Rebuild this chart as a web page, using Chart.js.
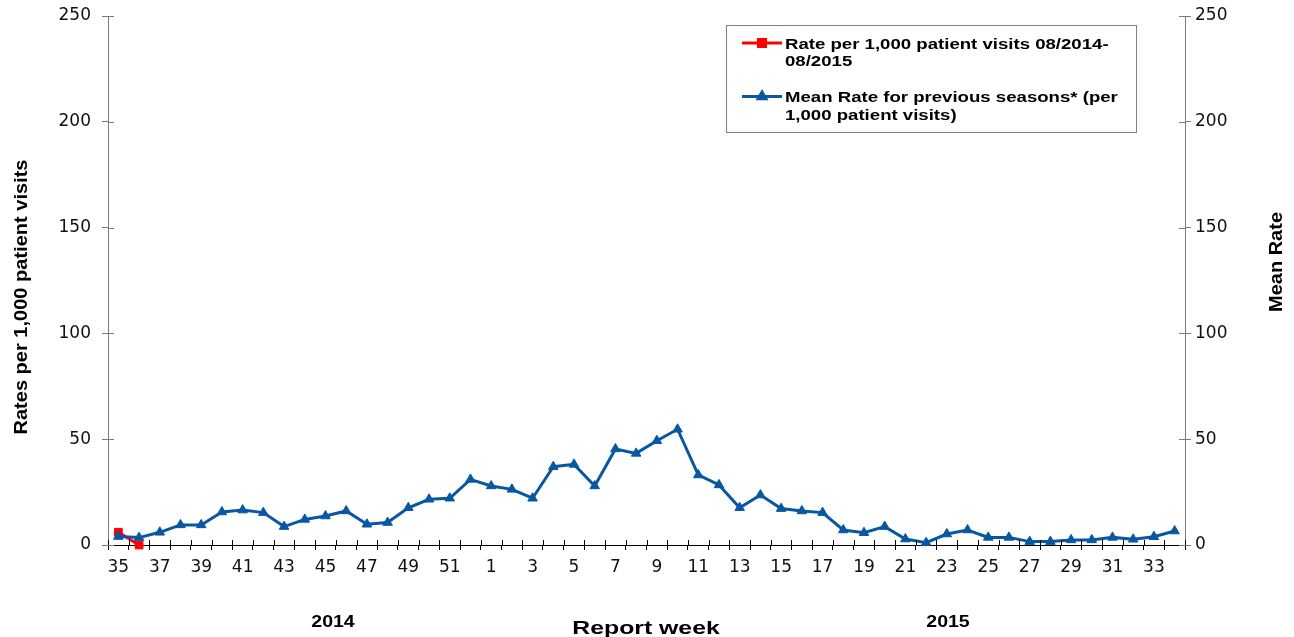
<!DOCTYPE html>
<html>
<head>
<meta charset="utf-8">
<script src="https://cdn.jsdelivr.net/npm/chart.js@4/dist/chart.umd.min.js"></script>
<style>
  html, body { margin: 0; padding: 0; background: #fff; }
  #wrap { width: 1294px; height: 637px; }
</style>
</head>
<body>
<div id="wrap"><canvas id="grafico"></canvas></div>
<script>
// semanas do relatorio (2014: 35-52, 2015: 1-34)
const weeks = [35, 36, 37, 38, 39, 40, 41, 42, 43, 44, 45, 46, 47, 48, 49, 50, 51, 52,
  1, 2, 3, 4, 5, 6, 7, 8, 9, 10, 11, 12, 13, 14, 15, 16, 17, 18, 19, 20, 21, 22, 23, 24,
  25, 26, 27, 28, 29, 30, 31, 32, 33, 34]

const meanRate = [4.0, 3.5, 6.0, 9.5, 9.5, 15.6, 16.5, 15.3, 8.7, 12.1, 13.7, 16.1, 9.8, 10.6,
  17.6, 21.6, 22.1, 31.0, 27.9, 26.3, 22.1, 37.0, 38.1, 27.9, 45.4, 43.3, 49.3, 54.7, 33.1,
  28.4, 17.6, 23.6, 17.2, 16.1, 15.3, 7.1, 5.8, 8.7, 2.8, 1.1, 5.2, 7.1, 3.6, 3.6, 1.6, 1.6,
  2.4, 2.4, 3.6, 2.7, 3.9, 6.6]

// so as duas primeiras semanas tem valor
const currentRate = [6.0, 0.0]

const yTicks = [0, 50, 100, 150, 200, 250]
const yearLabels = ['2014', '2015']

const redLabel = ['Rate per 1,000 patient visits 08/2014-', '08/2015']
const blueLabel = ['Mean Rate for previous seasons* (per', '1,000 patient visits)']

const RED = '#FF0000'
const BLUE = '#0757A2'
const AXIS_GRAY = '#7a7a7a'

function drawText(ctx, text, x, y, font, sx, align) {
  ctx.save()
  ctx.font = font
  ctx.textBaseline = 'alphabetic'
  ctx.textAlign = 'left'
  var w = ctx.measureText(text).width * sx
  var x0 = align == 'center' ? x - w / 2 : x
  ctx.translate(x0, y)
  ctx.scale(sx, 1)
  ctx.fillText(text, 0, 0)
  ctx.restore()
}

// texto girado -90 graus, com comprimento final fixo
function drawVertical(ctx, text, cx, cy, font, length) {
  ctx.save()
  ctx.font = font
  var w = ctx.measureText(text).width
  ctx.translate(cx, cy)
  ctx.rotate(-Math.PI / 2)
  ctx.scale(length / w, 1)
  ctx.textAlign = 'center'
  ctx.textBaseline = 'alphabetic'
  ctx.fillText(text, 0, 0)
  ctx.restore()
}

const extras = {
  id: 'extras',
  afterDraw(chart) {
    const ctx = chart.ctx
    const area = chart.chartArea
    const yl = chart.scales.y

    // marcas para dentro do grafico
    ctx.save()
    ctx.lineWidth = 1
    ctx.strokeStyle = AXIS_GRAY
    yTicks.forEach(v => {
      var py = Math.round(yl.getPixelForValue(v)) + 0.5
      ctx.beginPath()
      ctx.moveTo(area.left, py); ctx.lineTo(area.left + 6, py)
      ctx.moveTo(area.right - 6, py); ctx.lineTo(area.right, py)
      ctx.stroke()
    })
    ctx.strokeStyle = '#000'
    var step = (area.right - area.left) / weeks.length
    for (var i = 0; i <= weeks.length; i++) {
      var px = Math.round(area.left + i * step) + 0.5
      ctx.beginPath()
      ctx.moveTo(px, area.bottom); ctx.lineTo(px, area.bottom - 5)
      ctx.stroke()
    }
    ctx.restore()

    ctx.fillStyle = '#000'
    // titulos dos eixos
    drawVertical(ctx, 'Rates per 1,000 patient visits', 27, 297, 'bold 18.5px "Liberation Sans", Arial', 275)
    drawVertical(ctx, 'Mean Rate', 1282, 262, 'bold 18.5px "Liberation Sans", Arial', 100)
    drawText(ctx, 'Report week', 646, 634, 'bold 18.5px "Liberation Sans", Arial', 1.34, 'center')

    // anos
    drawText(ctx, yearLabels[0], 333, 626.5, 'bold 16px "Liberation Sans", Arial', 1.22, 'center')
    drawText(ctx, yearLabels[1], 948, 626.5, 'bold 16px "Liberation Sans", Arial', 1.22, 'center')

    // legenda
    ctx.save()
    ctx.strokeStyle = '#808080'
    ctx.lineWidth = 1
    ctx.strokeRect(726.5, 25.5, 410, 107)
    ctx.restore()

    var entries = [
      { color: RED, style: 'rect', lines: redLabel, y: 43, radius: 5 },
      { color: BLUE, style: 'triangle', lines: blueLabel, y: 96.5, radius: 4.5 }
    ]
    entries.forEach(e => {
      ctx.save()
      ctx.strokeStyle = e.color
      ctx.lineWidth = 3
      ctx.beginPath()
      ctx.moveTo(742, e.y); ctx.lineTo(782, e.y)
      ctx.stroke()
      ctx.fillStyle = e.color
      Chart.helpers.drawPoint(ctx, { pointStyle: e.style, radius: e.radius, borderWidth: 1, rotation: 0 }, 762, e.y)
      ctx.restore()
      ctx.fillStyle = '#000'
      drawText(ctx, e.lines[0], 785, e.y + 5.5, 'bold 15px "Liberation Sans", Arial', 1.24, 'left')
      drawText(ctx, e.lines[1], 785, e.y + 23, 'bold 15px "Liberation Sans", Arial', 1.24, 'left')
    })
  }
}

const tickFont = { family: '"DejaVu Sans", sans-serif', size: 17, lineHeight: 1 }

// tira o espaco extra que o Chart.js reserva para o rotulo do topo
function fitY(width) {
  return s => {
    s.width = width
    s.paddingTop = 0
    s.paddingBottom = 0
  }
}

const chart = new Chart(document.getElementById('grafico'), {
  type: 'line',
  data: {
    labels: weeks.map(w => w.toString()),
    datasets: [{
      label: redLabel.join(' '),
      data: currentRate,
      borderColor: RED,
      backgroundColor: RED,
      borderWidth: 3,
      pointStyle: 'rect',
      pointRadius: 5.5,
      pointBorderWidth: 1,
      yAxisID: 'y',
      order: 1,
      clip: false
    }, {
      label: blueLabel.join(' '),
      data: meanRate,
      borderColor: BLUE,
      backgroundColor: BLUE,
      borderWidth: 3,
      pointStyle: 'triangle',
      pointRadius: 5.5,
      pointBorderWidth: 1,
      yAxisID: 'y1',
      order: 0,
      clip: false
    }]
  },
  options: {
    responsive: true,
    maintainAspectRatio: false,
    animation: false,
    layout: { padding: { top: 16 } },
    plugins: {
      legend: { display: false },
      tooltip: { enabled: false }
    },
    scales: {
      x: {
        offset: true,
        grid: { offset: true, drawOnChartArea: false, color: '#000', tickLength: 5 },
        border: { color: '#000', width: 1 },
        ticks: {
          autoSkip: false,
          maxRotation: 0,
          minRotation: 0,
          padding: 9,
          color: '#111',
          font: tickFont,
          callback: function(val, index) { return index % 2 == 0 ? this.getLabelForValue(val) : '' }
        },
        afterFit: s => { s.height = 92 }
      },
      y: {
        position: 'left',
        min: 0, max: 250,
        grid: { drawOnChartArea: false, color: AXIS_GRAY, tickLength: 6 },
        border: { color: AXIS_GRAY, width: 1 },
        ticks: { stepSize: 50, padding: 11, color: '#111', font: tickFont },
        afterFit: fitY(108)
      },
      y1: {
        position: 'right',
        min: 0, max: 250,
        grid: { drawOnChartArea: false, color: AXIS_GRAY, tickLength: 6 },
        border: { color: AXIS_GRAY, width: 1 },
        ticks: { stepSize: 50, padding: 4, color: '#111', font: tickFont },
        afterFit: fitY(109)
      }
    }
  },
  plugins: [extras]
})
</script>
</body>
</html>
